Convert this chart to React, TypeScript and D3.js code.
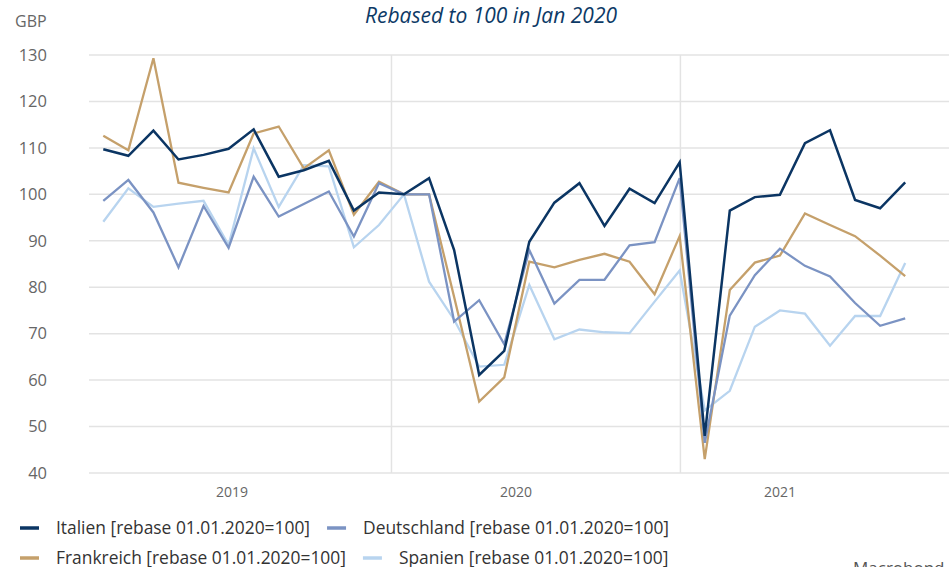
import React, { useEffect, useRef } from 'react';
import * as d3 from 'd3';

const W = 949;
const H = 567;

// index values, rebased to 100 in Jan 2020 (point 12)
const italien = [109.7, 108.3, 113.7, 107.5, 108.5, 109.8, 114.0, 103.8, 105.2, 107.2, 96.5, 100.4,
  100, 103.5, 88.0, 61.1, 66.3, 89.8, 98.2, 102.4, 93.2, 101.2, 98.1, 106.9,
  48.0, 96.5, 99.4, 99.9, 111.0, 113.8, 98.8, 97.0, 102.6];
const deutschland = [98.6, 103.1, 96.1, 84.3, 97.5, 88.5, 103.8, 95.2, 97.9, 100.6, 90.9, 102.4,
  100, 100, 72.6, 77.2, 67.7, 88.0, 76.5, 81.6, 81.6, 89.0, 89.7, 103.5,
  46.5, 73.9, 82.6, 88.3, 84.6, 82.3, 76.6, 71.7, 73.3];
const frankreich = [112.6, 109.5, 129.3, 102.5, 101.4, 100.4, 113.1, 114.6, 105.6, 109.5, 95.6, 102.7,
  100, 100, 77.9, 55.4, 60.6, 85.5, 84.3, 85.9, 87.2, 85.5, 78.5, 91.0,
  43.0, 79.4, 85.3, 86.8, 95.9, 93.4, 91.0, 86.8, 82.4];
const spanien = [94.1, 101.3, 97.3, 98.0, 98.6, 89.1, 109.9, 97.3, 106.3, 106.0, 88.6, 93.4,
  100, 81.2, 73.0, 62.9, 63.3, 80.5, 68.8, 70.9, 70.3, 70.1, 76.9, 83.6,
  53.5, 57.7, 71.5, 75.0, 74.3, 67.4, 73.8, 73.8, 85.2];

const seriesNames = [
  'Italien [rebase 01.01.2020=100]',
  'Deutschland [rebase 01.01.2020=100]',
  'Frankreich [rebase 01.01.2020=100]',
  'Spanien [rebase 01.01.2020=100]',
];
const seriesColors = ['#0b3563', '#7b93c3', '#c5a06b', '#b8d4ef'];
const seriesValues = [italien, deutschland, frankreich, spanien];

const yTicks = [40, 50, 60, 70, 80, 90, 100, 110, 120, 130];
const yearLabels = ['2019', '2020', '2021'];
const yearLabelAt = [5.14, 16.47, 27.0];
const yearLines = [11.5, 23.03];

const FONT = "'Open Sans', sans-serif";

export default function App() {
  const ref = useRef<SVGSVGElement>(null);

  useEffect(() => {
    const svg = d3.select(ref.current);
    svg.selectAll('*').remove();

    const x = d3.scaleLinear().domain([0, italien.length - 1]).range([103.3, 905.2]);
    const y = d3.scaleLinear().domain([40, 130]).range([473, 55]);

    // grid
    const grid = svg.append('g');
    grid.selectAll('.h').data(yTicks).enter().append('line')
      .attr('x1', 89).attr('x2', W)
      .attr('y1', (d) => y(d)).attr('y2', (d) => y(d))
      .attr('stroke', '#e3e3e3').attr('stroke-width', 1.5);
    grid.selectAll('.v').data(yearLines).enter().append('line')
      .attr('x1', (d) => x(d)).attr('x2', (d) => x(d))
      .attr('y1', y(130)).attr('y2', y(40))
      .attr('stroke', '#e3e3e3').attr('stroke-width', 1.5);

    // y labels
    svg.append('g').selectAll('text').data(yTicks).enter().append('text')
      .attr('x', 47).attr('y', (d) => y(d))
      .attr('dy', '0.35em').attr('text-anchor', 'end')
      .style('font-family', FONT).style('font-size', '16.5px').attr('fill', '#666')
      .text((d) => d);

    svg.append('text').attr('x', 15).attr('y', 27)
      .style('font-family', FONT).style('font-size', '16px').attr('fill', '#666')
      .text('GBP');

    // x labels
    svg.append('g').selectAll('text').data(yearLabels).enter().append('text')
      .attr('x', (d, i) => x(yearLabelAt[i])).attr('y', 497)
      .attr('text-anchor', 'middle')
      .style('font-family', FONT).style('font-size', '14px').attr('fill', '#666')
      .text((d) => d);

    // title
    svg.append('text').attr('x', 491).attr('y', 23).attr('text-anchor', 'middle')
      .style('font-family', FONT).style('font-size', '21px').style('font-style', 'italic')
      .attr('fill', '#0d3a66')
      .text('Rebased to 100 in Jan 2020');

    // lines, Spanien at the bottom, Italien on top
    const line = d3.line<number>().x((d, i) => x(i)).y((d) => y(d));
    [3, 2, 1, 0].forEach((k) => {
      svg.append('path').datum(seriesValues[k])
        .attr('d', line)
        .attr('fill', 'none')
        .attr('stroke', seriesColors[k])
        .attr('stroke-width', k === 0 ? 2.5 : 2.3)
        .attr('stroke-linejoin', 'miter');
    });

    // legend, flowing in two rows
    const rows = [[0, 1], [2, 3]];
    rows.forEach((row, r) => {
      let cx = 20;
      const cy = 528 + r * 30;
      row.forEach((k) => {
        svg.append('line').attr('x1', cx).attr('x2', cx + 19).attr('y1', cy).attr('y2', cy)
          .attr('stroke', seriesColors[k]).attr('stroke-width', 3.5);
        const t = svg.append('text').attr('x', cx + 36).attr('y', cy).attr('dy', '0.35em')
          .style('font-family', FONT).style('font-size', '17.4px').attr('fill', '#333')
          .text(seriesNames[k]);
        const len = (t.node() as SVGTextElement).getComputedTextLength();
        cx = cx + 36 + len + 17;
      });
    });

    svg.append('text').attr('x', 853).attr('y', 574)
      .style('font-family', FONT).style('font-size', '17px').attr('fill', '#555')
      .text('Macrobond');
  }, []);

  return (
    <svg ref={ref} width={W} height={H}
      style={{ position: 'absolute', left: 0, top: 0, background: '#fff' }} />
  );
}
